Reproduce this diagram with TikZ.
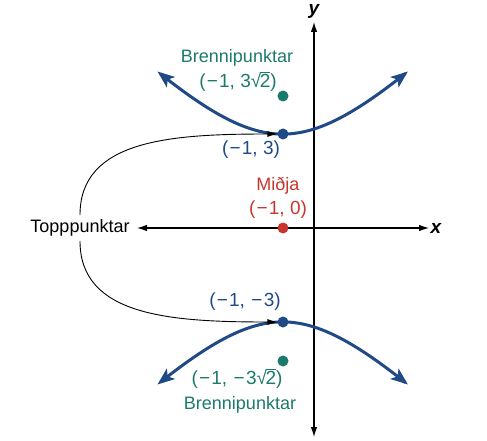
\documentclass[tikz,border=0pt]{standalone}
\usepackage{fontspec}
\setmainfont{Liberation Sans}
\usetikzlibrary{arrows.meta}
\definecolor{navy}{HTML}{1F4A86}
\definecolor{tealc}{HTML}{1B7A6B}
\definecolor{redc}{HTML}{C8372D}
\newcommand\sqtwo{√\kern-0.08em\rlap{\raisebox{0.76em}{\rule{0.56em}{0.065em}}}2}
\newcommand\mn{\kern1.2pt−\kern1.2pt}
\begin{document}
\begin{tikzpicture}[x=1pt,y=-1pt,
  lbl/.style={font=\fontsize{18}{20}\selectfont, inner sep=0pt, text height=13pt, text depth=4pt},
  crd/.style={font=\fontsize{19}{20}\selectfont, inner sep=0pt, text height=13.5pt, text depth=4pt},
  axl/.style={font=\fontsize{19}{20}\selectfont\bfseries\itshape, inner sep=0pt},
  axis/.style={line width=1.1pt, {Latex[length=10pt,width=6.5pt]}-{Latex[length=10pt,width=6.5pt]}},
  hyp/.style={navy, line width=3pt, {Stealth[length=17pt,width=13pt,inset=4pt]}-{Stealth[length=17pt,width=13pt,inset=4pt]}},
  dot/.style={circle, fill=#1, inner sep=0pt, minimum size=11pt},
  pointer/.style={line width=0.9pt, -{Latex[length=10pt,width=6pt]}}]
\useasboundingbox (0,0) rectangle (487,441);
% axes
\coordinate (xl0) at (137,228);
\coordinate (xr0) at (429,228);
\coordinate (yb0) at (314,437);
\coordinate (yt0) at (314,22);
\draw[axis] (xl0) -- (xr0);
\draw[axis] (yb0) -- (yt0);
\node[axl] (xlab) at (436,228) {x};
\node[axl] (ylab) at (314,11) {y};
% hyperbola
\draw[hyp, domain=-5:3, samples=80, smooth] plot ({314+31.3*\x},{228-93.9*sqrt(1+(\x+1)*(\x+1)/9)});
\draw[hyp, domain=-5:3, samples=80, smooth] plot ({314+31.3*\x},{228+93.9*sqrt(1+(\x+1)*(\x+1)/9)});
% points
\node[dot=navy] (v1) at (283,134) {};
\node[dot=navy] (v2) at (283,322) {};
\node[dot=tealc] (f1) at (283,96) {};
\node[dot=tealc] (f2) at (283,361) {};
\node[dot=redc] (c) at (283,228) {};
% labels
\node[lbl, tealc] (bp1) at (237,58) {Brennipunktar};
\node[crd, tealc] (f1l) at (238,83) {(\mn1, 3\sqtwo)};
\node[crd, navy] (v1l) at (251,150) {(\mn1, 3)};
\node[lbl, redc] (cl1) at (278,186) {Miðja};
\node[crd, redc] (cl2) at (278,210) {(\mn1, 0)};
\node[crd, navy] (v2l) at (245,302) {(\mn1, \mn3)};
\node[crd, tealc] (f2l) at (237,380) {(\mn1, \mn3\sqtwo)};
\node[lbl, tealc] (bp2) at (240,405) {Brennipunktar};
\node[lbl] (tp) at (80,228) {Topppunktar};
% pointers
\coordinate (tpu) at (80,215);
\coordinate (tpd) at (80,241);
\draw[pointer] (tpu) .. controls (80,140) and (170,134) .. (v1.west);
\draw[pointer] (tpd) .. controls (80,316) and (170,322) .. (v2.west);
\end{tikzpicture}
\end{document}
